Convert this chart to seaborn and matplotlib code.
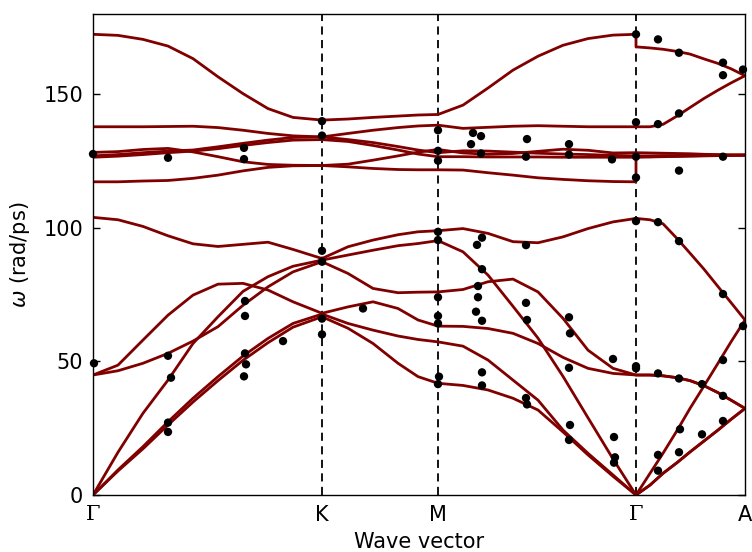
import numpy as np
import pandas as pd
import matplotlib
matplotlib.use("Agg")
import matplotlib.pyplot as plt
import seaborn as sns

# ---- path coordinates of the sample points along each segment ----
gk_q = [0, 25, 50, 75, 100, 125, 150, 175, 200, 229]
km_q = [229, 255, 280, 305, 325, 345]
mg_q = [345, 370, 395, 420, 445, 470, 495, 520, 543]
ga_q = [543, 557, 570, 584, 597, 611, 625, 638, 652]

tick_pos = [0, 229, 345, 543, 652]
tick_labels = ["Γ", "K", "M", "Γ", "A"]

band_names = ["T1", "T2", "M1", "M2", "M3", "B117", "B104",
              "O45a", "O45b", "A3", "A1", "A2"]

# Gamma - K
gk_bands = [
    [172.4, 172.0, 170.5, 168.0, 163.3, 156.5, 150.2, 144.6, 141.3, 140.3],
    [137.8, 137.8, 137.8, 137.9, 138.0, 137.5, 136.5, 135.3, 134.4, 134.0],
    [128.2, 128.5, 129.3, 129.7, 128.4, 126.6, 124.7, 123.7, 123.4, 123.3],
    [126.9, 127.4, 128.1, 128.7, 129.1, 130.3, 131.6, 132.8, 133.8, 134.0],
    [126.4, 126.8, 127.4, 128.1, 128.7, 129.6, 130.8, 131.9, 132.8, 133.0],
    [117.2, 117.2, 117.5, 117.7, 118.5, 119.7, 121.3, 122.6, 123.2, 123.3],
    [103.9, 103.0, 100.5, 97.0, 94.0, 93.0, 93.8, 94.6, 91.9, 88.5],
    [44.9, 48.6, 58.0, 67.3, 74.8, 78.9, 79.2, 76.7, 72.3, 68.0],
    [44.9, 46.5, 49.3, 53.0, 57.6, 63.0, 71.0, 77.9, 83.5, 87.3],
    [0.0, 16.0, 30.6, 43.0, 56.7, 66.7, 76.2, 81.7, 85.6, 87.9],
    [0.0, 9.4, 18.1, 27.4, 36.2, 44.3, 52.0, 58.6, 64.2, 67.7],
    [0.0, 9.0, 17.3, 26.2, 34.8, 42.8, 50.4, 57.0, 62.8, 66.7],
]

# K - M
km_bands = [
    [140.3, 140.7, 141.3, 141.8, 142.2, 142.4],
    [134.0, 135.3, 136.5, 137.5, 138.1, 138.4],
    [123.3, 123.8, 125.3, 126.9, 128.3, 129.3],
    [134.0, 133.0, 131.9, 130.4, 129.1, 128.1],
    [133.0, 132.3, 130.8, 129.1, 127.6, 126.6],
    [123.3, 122.8, 122.2, 121.8, 121.7, 121.7],
    [88.5, 92.9, 95.4, 97.4, 98.5, 98.9],
    [68.0, 70.4, 72.3, 69.8, 65.5, 63.2],
    [87.3, 82.9, 77.3, 75.7, 75.9, 76.0],
    [87.9, 89.8, 91.6, 93.3, 94.1, 95.2],
    [67.7, 64.2, 61.7, 59.5, 58.2, 57.3],
    [66.7, 62.4, 56.7, 49.3, 44.3, 41.8],
]

# M - Gamma
mg_bands = [
    [142.4, 145.9, 152.3, 159.0, 164.2, 168.3, 170.8, 172.1, 172.4],
    [138.4, 137.2, 137.6, 138.0, 138.2, 138.0, 137.8, 137.8, 137.8],
    [129.3, 128.0, 127.5, 127.8, 128.6, 129.4, 129.0, 128.0, 128.1],
    [128.1, 128.8, 128.7, 128.3, 127.9, 127.6, 127.4, 127.1, 126.9],
    [126.6, 126.6, 126.5, 126.5, 126.5, 126.4, 126.4, 126.4, 126.4],
    [121.7, 121.6, 120.6, 119.7, 118.7, 118.1, 117.6, 117.3, 117.2],
    [98.9, 99.7, 97.9, 94.8, 94.4, 96.6, 99.7, 102.2, 103.5],
    [63.2, 63.1, 62.3, 60.5, 56.7, 51.5, 47.4, 45.5, 44.9],
    [76.0, 76.9, 79.8, 80.8, 76.0, 66.1, 54.2, 47.4, 44.9],
    [95.2, 91.0, 82.3, 70.6, 58.7, 44.4, 28.9, 13.5, 0.0],
    [57.3, 55.7, 50.5, 43.0, 35.5, 24.3, 15.6, 7.5, 0.0],
    [41.8, 41.0, 39.3, 36.2, 31.8, 23.6, 15.0, 7.0, 0.0],
]

# Gamma - A
ga_bands = [
    [167.7, 167.3, 166.8, 166.0, 165.0, 163.2, 161.5, 159.5, 156.9],
    [137.8, 137.8, 138.7, 141.8, 145.0, 148.4, 151.5, 154.2, 156.9],
    [128.1, 128.0, 127.9, 127.8, 127.7, 127.5, 127.4, 127.3, 127.2],
    [126.9, 126.9, 127.0, 127.0, 127.1, 127.1, 127.2, 127.2, 127.2],
    [126.4, 126.5, 126.6, 126.7, 126.8, 126.9, 127.0, 127.1, 127.2],
    [126.6, 126.6, 126.7, 126.8, 126.9, 127.0, 127.0, 127.1, 127.2],
    [103.5, 103.0, 101.5, 96.0, 90.5, 84.5, 78.0, 72.0, 65.5],
    [44.9, 44.9, 44.6, 43.9, 42.8, 40.9, 38.3, 35.5, 32.4],
    [44.9, 44.9, 44.6, 43.9, 42.8, 40.9, 38.3, 35.5, 32.4],
    [0.0, 8.1, 15.6, 24.1, 32.4, 40.8, 49.3, 57.3, 65.5],
    [0.0, 3.7, 8.1, 12.1, 16.1, 20.2, 24.3, 28.3, 32.4],
    [0.0, 3.7, 8.1, 12.1, 16.1, 20.2, 24.3, 28.3, 32.4],
]

# experimental points
exp_q = [0, 75, 151, 151, 229, 229, 229, 229, 229, 229, 1, 75, 78, 75, 75,
         152, 152, 152, 153, 151, 190,
         270, 345, 345, 345, 345, 345, 345, 345, 345, 346, 345,
         380, 388, 378, 388, 434, 433, 476, 476, 519, 384, 389, 433, 389, 385,
         385, 383, 389, 389, 389, 433, 434, 433, 434, 476, 477, 476, 477, 476,
         520, 521, 522, 521,
         543, 543, 543, 543, 543, 543, 543,
         565, 586, 630, 630, 650, 565, 586, 586, 630, 565, 586, 630, 650, 630,
         565, 586, 609, 630, 630, 609, 587, 586, 565, 565]
exp_w = [127.6, 126.2, 129.9, 125.7, 139.9, 134.5, 91.4, 87.3, 66.0, 60.1,
         49.3, 52.1, 43.9, 27.1, 23.6,
         72.6, 67.0, 53.0, 48.9, 44.4, 57.6,
         69.8, 136.5, 128.8, 125.1, 98.5, 95.4, 74.0, 67.0, 64.2, 44.3, 41.5,
         135.5, 134.3, 131.3, 127.8, 133.2, 126.6, 131.3, 127.4, 125.6, 93.6,
         96.3, 93.5, 84.5, 78.2, 74.0, 68.6, 65.2, 45.9, 41.0, 71.9, 65.5,
         36.3, 33.9, 66.5, 60.5, 47.6, 26.2, 20.6,
         50.9, 21.7, 14.1, 12.1,
         172.4, 139.5, 126.6, 118.8, 102.5, 47.4, 48.2,
         170.5, 165.5, 161.8, 157.1, 159.2, 138.8, 142.8, 121.4, 126.6, 102.1,
         95.0, 75.2, 63.2, 50.5,
         45.5, 43.6, 41.5, 37.1, 27.7, 22.7, 24.6, 16.0, 15.0, 9.1]

# ---- assemble long table (each band one continuous line) ----
rows = []
for b, name in enumerate(band_names):
    qs = gk_q + km_q[1:] + mg_q[1:] + ga_q
    ws = gk_bands[b] + km_bands[b][1:] + mg_bands[b][1:] + ga_bands[b]
    for i, (q, w) in enumerate(zip(qs, ws)):
        rows.append({"band": name, "order": i, "q": q, "omega": w})
df = pd.DataFrame(rows)
exp_df = pd.DataFrame({"q": exp_q, "omega": exp_w})

sns.set_style("white")
plt.rcParams["font.family"] = ["DejaVu Sans"]
plt.rcParams["mathtext.fontset"] = "dejavusans"
for k in ["text.color", "axes.labelcolor", "xtick.color", "ytick.color"]:
    plt.rcParams[k] = "black"

fig = plt.figure(figsize=(7.52, 5.52), dpi=100)
ax = fig.add_axes([93 / 752, 1 - 495 / 552, (745 - 93) / 752, (495 - 14) / 552])

for xv in tick_pos[1:-1]:
    ax.axvline(xv, color="black", lw=1.3, ls=(0, (4.5, 3)), zorder=1)

sns.lineplot(data=df, x="q", y="omega", units="band", estimator=None,
             sort=False, color="#800000", lw=2.0, legend=False, ax=ax,
             zorder=2)
sns.scatterplot(data=exp_df, x="q", y="omega", color="black", s=36,
                edgecolor="none", ax=ax, zorder=3, clip_on=False)

ax.set_xlim(0, 652)
ax.set_ylim(0, 180)
ax.set_xticks(tick_pos)
ax.set_xticklabels(tick_labels)
for lab in ax.get_xticklabels():
    if lab.get_text() == "Γ":
        lab.set_fontfamily("DejaVu Serif")
ax.set_yticks([0, 50, 100, 150])
ax.tick_params(axis="x", length=0, labelsize=15, pad=7, colors="black")
ax.tick_params(axis="y", direction="in", length=5, width=1, left=True,
               right=True, labelsize=15, pad=7, colors="black")
ax.set_xlabel("Wave vector", fontsize=15, labelpad=5, color="black")
ax.set_ylabel(r"$\omega$ (rad/ps)", fontsize=15, labelpad=8, color="black")
for s in ax.spines.values():
    s.set_color("black")
    s.set_linewidth(1.0)

fig.savefig("out.png", dpi=100)
